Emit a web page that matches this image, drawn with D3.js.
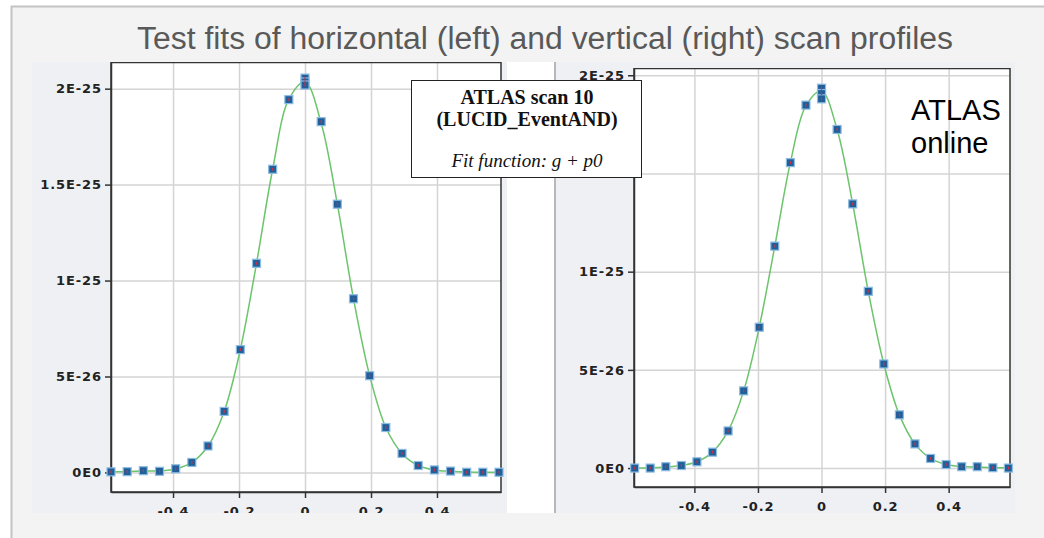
<!DOCTYPE html>
<html>
<head>
<meta charset="utf-8">
<script src="https://cdn.jsdelivr.net/npm/d3@7"></script>
<style>
  body { margin: 0; background: #fff; }
  svg { display: block; }
  .tick text { font-family: "DejaVu Sans", sans-serif; font-weight: bold; font-size: 13px; fill: #222; letter-spacing: 0.9px; }
  .grid line { stroke: #d4d4d4; stroke-width: 1.5; }
  .grid path { display: none; }
  .axis path, .axis line { stroke: #333; stroke-width: 1.5; }
</style>
</head>
<body>
<div id="chart"></div>
<script>
// values in units of 1E-26
const unit = 1e-26;

const titleText = 'Test fits of horizontal (left) and vertical (right) scan profiles';
const legendLines = ['ATLAS scan 10', '(LUCID_EventAND)', 'Fit function: g + p0'];
const stampLines = ['ATLAS', 'online'];

const xTicks = [-0.4, -0.2, 0, 0.2, 0.4];
const xTickLabels = ['-0.4', '-0.2', '0', '0.2', '0.4'];
const yTicks = [0, 5, 10, 15, 20];
const yTickLabels = ['0E0', '5E-26', '1E-25', '1.5E-25', '2E-25'];
// on the right plot the 1.5E-25 label sits under the legend box
const rightLabelTicks = [0, 5, 10, 20];

const scanX = [-0.588, -0.539, -0.490, -0.441, -0.392, -0.343, -0.294, -0.245, -0.196, -0.147, -0.098, -0.049,
  0, 0.049, 0.098, 0.147, 0.196, 0.245, 0.294, 0.343, 0.392, 0.441, 0.490, 0.539, 0.588];

// horizontal scan (left)
const leftX = [-0.588, -0.539, -0.490, -0.441, -0.392, -0.343, -0.294, -0.245, -0.196, -0.147, -0.098, -0.049,
  0, 0, 0, 0.049, 0.098, 0.147, 0.196, 0.245, 0.294, 0.343, 0.392, 0.441, 0.490, 0.539, 0.588];
const leftY = [0.03, 0.04, 0.09, 0.06, 0.19, 0.52, 1.38, 3.18, 6.4, 10.9, 15.8, 19.43,
  20.55, 20.35, 20.19, 18.28, 13.98, 9.05, 5.04, 2.34, 0.99, 0.36, 0.13, 0.07, 0.01, 0.01, 0.01];
const leftFit = [0.03, 0.04, 0.07, 0.08, 0.18, 0.52, 1.38, 3.18, 6.4, 10.9, 15.8, 19.45,
  20.35, 18.2, 13.98, 9.05, 5.04, 2.34, 0.99, 0.36, 0.13, 0.06, 0.02, 0.01, 0.01];

// vertical scan (right)
const rightX = [-0.588, -0.539, -0.490, -0.441, -0.392, -0.343, -0.294, -0.245, -0.196, -0.147, -0.098, -0.049,
  0, 0, 0, 0.049, 0.098, 0.147, 0.196, 0.245, 0.294, 0.343, 0.392, 0.441, 0.490, 0.539, 0.588];
const rightY = [0.0, 0.0, 0.07, 0.13, 0.32, 0.81, 1.89, 3.93, 7.17, 11.3, 15.55, 18.48,
  19.34, 19.07, 18.8, 17.24, 13.45, 9.0, 5.3, 2.71, 1.23, 0.49, 0.18, 0.07, 0.07, 0.02, 0.0];
const rightFit = [0.0, 0.02, 0.06, 0.13, 0.32, 0.81, 1.89, 3.93, 7.17, 11.3, 15.55, 18.45,
  19.2, 17.24, 13.45, 9.0, 5.3, 2.71, 1.23, 0.49, 0.18, 0.08, 0.05, 0.02, 0.01];

const width = 1044, height = 538;

const svg = d3.select('#chart').append('svg')
  .attr('width', width).attr('height', height);
const defs = svg.append('defs');

// slide background
svg.append('rect')
  .attr('x', 11.5).attr('y', 6.5).attr('width', 1040).attr('height', 540)
  .attr('fill', '#f3f3f3').attr('stroke', '#c4c4c4').attr('stroke-width', 2);

svg.append('text')
  .attr('x', 545).attr('y', 49)
  .attr('text-anchor', 'middle')
  .attr('textLength', 816).attr('lengthAdjust', 'spacingAndGlyphs')
  .style('font-family', '"Liberation Sans Narrow", "Liberation Sans", Arial, sans-serif')
  .style('font-size', '31px').style('fill', '#595959')
  .text(titleText);

// white gap between the two screenshots + separator
svg.append('rect').attr('x', 507).attr('y', 62).attr('width', 47).attr('height', 451).attr('fill', '#fff');
svg.append('rect').attr('x', 554).attr('y', 62).attr('width', 2).attr('height', 451).attr('fill', '#b8b8b8');

function drawPanel(cfg) {
  defs.append('clipPath').attr('id', cfg.id)
    .append('rect').attr('x', cfg.clip[0]).attr('y', cfg.clip[1])
    .attr('width', cfg.clip[2]).attr('height', cfg.clip[3]);

  svg.append('rect').attr('x', cfg.bg[0]).attr('y', cfg.bg[1])
    .attr('width', cfg.bg[2]).attr('height', cfg.bg[3]).attr('fill', '#eff0f3');

  const g = svg.append('g').attr('clip-path', `url(#${cfg.id})`);

  const x = d3.scaleLinear(cfg.xDomain, [cfg.left, cfg.right]);
  const y = d3.scaleLinear(cfg.yDomain.map(v => v * unit), [cfg.bottom, cfg.top]);
  const yt = yTicks.map(v => v * unit);
  const ytLabelled = cfg.labelTicks.map(v => v * unit);

  g.append('rect').attr('x', cfg.left).attr('y', cfg.top)
    .attr('width', cfg.right - cfg.left).attr('height', cfg.bottom - cfg.top)
    .attr('fill', '#fff');

  g.append('g').attr('class', 'grid')
    .attr('transform', `translate(0,${cfg.bottom})`)
    .call(d3.axisBottom(x).tickValues(xTicks).tickSize(-(cfg.bottom - cfg.top)).tickFormat(''));
  g.append('g').attr('class', 'grid')
    .attr('transform', `translate(${cfg.left},0)`)
    .call(d3.axisLeft(y).tickValues(yt).tickSize(-(cfg.right - cfg.left)).tickFormat(''));

  g.append('rect').attr('x', cfg.left).attr('y', cfg.top + 0.5)
    .attr('width', cfg.right - cfg.left).attr('height', cfg.bottom - cfg.top - 0.5)
    .attr('fill', 'none').attr('stroke', '#333').attr('stroke-width', 1.5);

  g.append('g').attr('class', 'axis')
    .attr('transform', `translate(0,${cfg.bottom})`)
    .call(d3.axisBottom(x).tickValues(xTicks).tickFormat((d, i) => xTickLabels[i])
      .tickSize(6).tickSizeOuter(0).tickPadding(9));
  g.append('g').attr('class', 'axis')
    .attr('transform', `translate(${cfg.left},0)`)
    .call(d3.axisLeft(y).tickValues(ytLabelled)
      .tickFormat(d => yTickLabels[yTicks.indexOf(Math.round(d / unit))])
      .tickSize(6).tickSizeOuter(0).tickPadding(3));

  const line = d3.line()
    .x((d, i) => x(scanX[i]))
    .y(d => y(d * unit))
    .curve(d3.curveCatmullRom.alpha(0.5));

  const plot = g.append('g');
  plot.append('path').datum(cfg.fit)
    .attr('d', line)
    .attr('fill', 'none').attr('stroke', '#6cc46c').attr('stroke-width', 1.5);

  const pts = cfg.ys.map((v, i) => [cfg.xs[i], v]);
  plot.selectAll('rect.pt').data(pts).join('rect')
    .attr('class', 'pt')
    .attr('x', d => x(d[0]) - 4).attr('y', d => y(d[1] * unit) - 4)
    .attr('width', 8).attr('height', 8)
    .attr('fill', '#1f5f9a').attr('stroke', '#8dbbe2').attr('stroke-width', 1.2);
  plot.selectAll('rect.err').data(pts).join('rect')
    .attr('class', 'err')
    .attr('x', d => x(d[0]) - 0.6).attr('y', d => y(d[1] * unit) - 1.5)
    .attr('width', 1.2).attr('height', 3)
    .attr('fill', '#c8324a');
}

drawPanel({
  id: 'clipL', bg: [32, 62, 475, 451], clip: [32, 62, 475, 451],
  left: 111, right: 501, top: 62, bottom: 492,
  xDomain: [-0.588, 0.594], yDomain: [-1.02, 21.39],
  xs: leftX, ys: leftY, fit: leftFit, labelTicks: yTicks
});

drawPanel({
  id: 'clipR', bg: [556, 62, 459, 451], clip: [556, 68, 459, 445],
  left: 634, right: 1010, top: 68, bottom: 487,
  xDomain: [-0.590, 0.593], yDomain: [-0.964, 20.37],
  xs: rightX, ys: rightY, fit: rightFit, labelTicks: rightLabelTicks
});

// legend box
const legend = svg.append('g');
legend.append('rect')
  .attr('x', 411.5).attr('y', 80.5).attr('width', 230).attr('height', 97)
  .attr('fill', '#fff').attr('stroke', '#222').attr('stroke-width', 1);
legend.selectAll('text').data(legendLines).join('text')
  .attr('x', 527).attr('y', (d, i) => [104, 126, 167][i])
  .attr('text-anchor', 'middle')
  .style('font-family', '"Liberation Serif", "Times New Roman", serif')
  .style('font-size', (d, i) => i < 2 ? '20px' : '19px')
  .style('font-weight', (d, i) => i < 2 ? 'bold' : 'normal')
  .style('font-style', (d, i) => i == 2 ? 'italic' : 'normal')
  .style('fill', '#111')
  .text(d => d);

svg.selectAll('text.stamp').data(stampLines).join('text')
  .attr('class', 'stamp')
  .attr('x', 911).attr('y', (d, i) => 120 + i * 33)
  .style('font-family', '"Liberation Sans", Arial, sans-serif')
  .style('font-size', '29px').style('fill', '#000')
  .text(d => d);
</script>
</body>
</html>
